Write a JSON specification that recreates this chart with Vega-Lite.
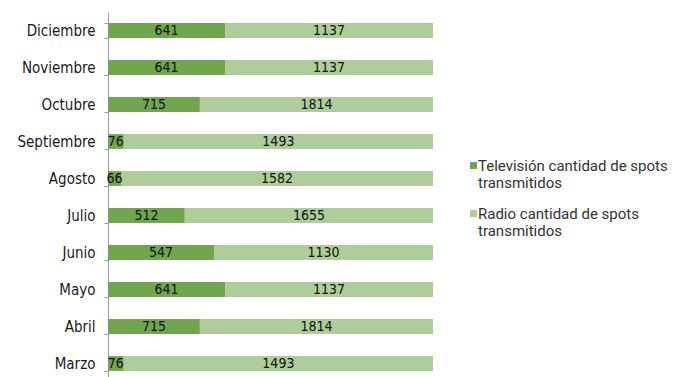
{
  "$schema": "https://vega.github.io/schema/vega-lite/v6.json",
  "autosize": "none",
  "padding": {"left": 108, "top": 0, "right": 249, "bottom": 0},
  "width": 325,
  "height": 377,
  "background": "white",
  "config": {"view": {"stroke": null}},
  "data": {
    "values": [
      {"mes": "Diciembre", "serie": "Televisión cantidad de spots transmitidos", "valor": 641},
      {"mes": "Diciembre", "serie": "Radio cantidad de spots transmitidos", "valor": 1137},
      {"mes": "Noviembre", "serie": "Televisión cantidad de spots transmitidos", "valor": 641},
      {"mes": "Noviembre", "serie": "Radio cantidad de spots transmitidos", "valor": 1137},
      {"mes": "Octubre", "serie": "Televisión cantidad de spots transmitidos", "valor": 715},
      {"mes": "Octubre", "serie": "Radio cantidad de spots transmitidos", "valor": 1814},
      {"mes": "Septiembre", "serie": "Televisión cantidad de spots transmitidos", "valor": 76},
      {"mes": "Septiembre", "serie": "Radio cantidad de spots transmitidos", "valor": 1493},
      {"mes": "Agosto", "serie": "Televisión cantidad de spots transmitidos", "valor": 66},
      {"mes": "Agosto", "serie": "Radio cantidad de spots transmitidos", "valor": 1582},
      {"mes": "Julio", "serie": "Televisión cantidad de spots transmitidos", "valor": 512},
      {"mes": "Julio", "serie": "Radio cantidad de spots transmitidos", "valor": 1655},
      {"mes": "Junio", "serie": "Televisión cantidad de spots transmitidos", "valor": 547},
      {"mes": "Junio", "serie": "Radio cantidad de spots transmitidos", "valor": 1130},
      {"mes": "Mayo", "serie": "Televisión cantidad de spots transmitidos", "valor": 641},
      {"mes": "Mayo", "serie": "Radio cantidad de spots transmitidos", "valor": 1137},
      {"mes": "Abril", "serie": "Televisión cantidad de spots transmitidos", "valor": 715},
      {"mes": "Abril", "serie": "Radio cantidad de spots transmitidos", "valor": 1814},
      {"mes": "Marzo", "serie": "Televisión cantidad de spots transmitidos", "valor": 76},
      {"mes": "Marzo", "serie": "Radio cantidad de spots transmitidos", "valor": 1493}
    ]
  },
  "transform": [
    {"stack": "valor", "groupby": ["mes"], "sort": [{"field": "serie", "order": "descending"}], "offset": "normalize", "as": ["v0", "v1"]},
    {"calculate": "(datum.v0 + datum.v1) / 2", "as": "mid"}
  ],
  "encoding": {
    "y": {
      "field": "mes", "type": "nominal",
      "sort": ["Diciembre", "Noviembre", "Octubre", "Septiembre", "Agosto", "Julio", "Junio", "Mayo", "Abril", "Marzo"],
      "scale": {"range": [12, 382], "paddingInner": 0.6, "paddingOuter": 0.3},
      "axis": {
        "title": null, "domainColor": "#9a9a9a", "tickColor": "#9a9a9a", "tickSize": 4,
        "tickBand": "extent", "labelFont": "DejaVu Sans Condensed", "labelFontSize": 15,
        "labelColor": "#1a1a1a", "labelPadding": 9
      }
    }
  },
  "layer": [
    {
      "mark": {"type": "bar"},
      "encoding": {
        "x": {"field": "v0", "type": "quantitative", "scale": {"domain": [0, 1]}, "axis": null},
        "x2": {"field": "v1"},
        "color": {
          "field": "serie", "type": "nominal",
          "scale": {"domain": ["Televisión cantidad de spots transmitidos", "Radio cantidad de spots transmitidos"], "range": ["#70a64e", "#aecd9a"]},
          "legend": {
            "title": null, "orient": "none", "legendX": 358, "legendY": 158,
            "symbolType": "square", "symbolSize": 49, "symbolStrokeWidth": 0,
            "labelFont": "Roboto", "labelFontSize": 15, "labelColor": "#333333",
            "labelLimit": 300, "rowPadding": 15, "labelOffset": -3,
            "labelExpr": "[replace(datum.label, ' transmitidos', ''), 'transmitidos']"
          }
        }
      }
    },
    {
      "mark": {"type": "text", "font": "DejaVu Sans Condensed", "fontSize": 14, "color": "#111111", "baseline": "middle"},
      "encoding": {
        "x": {"field": "mid", "type": "quantitative"},
        "text": {"field": "valor", "type": "quantitative"}
      }
    }
  ]
}
